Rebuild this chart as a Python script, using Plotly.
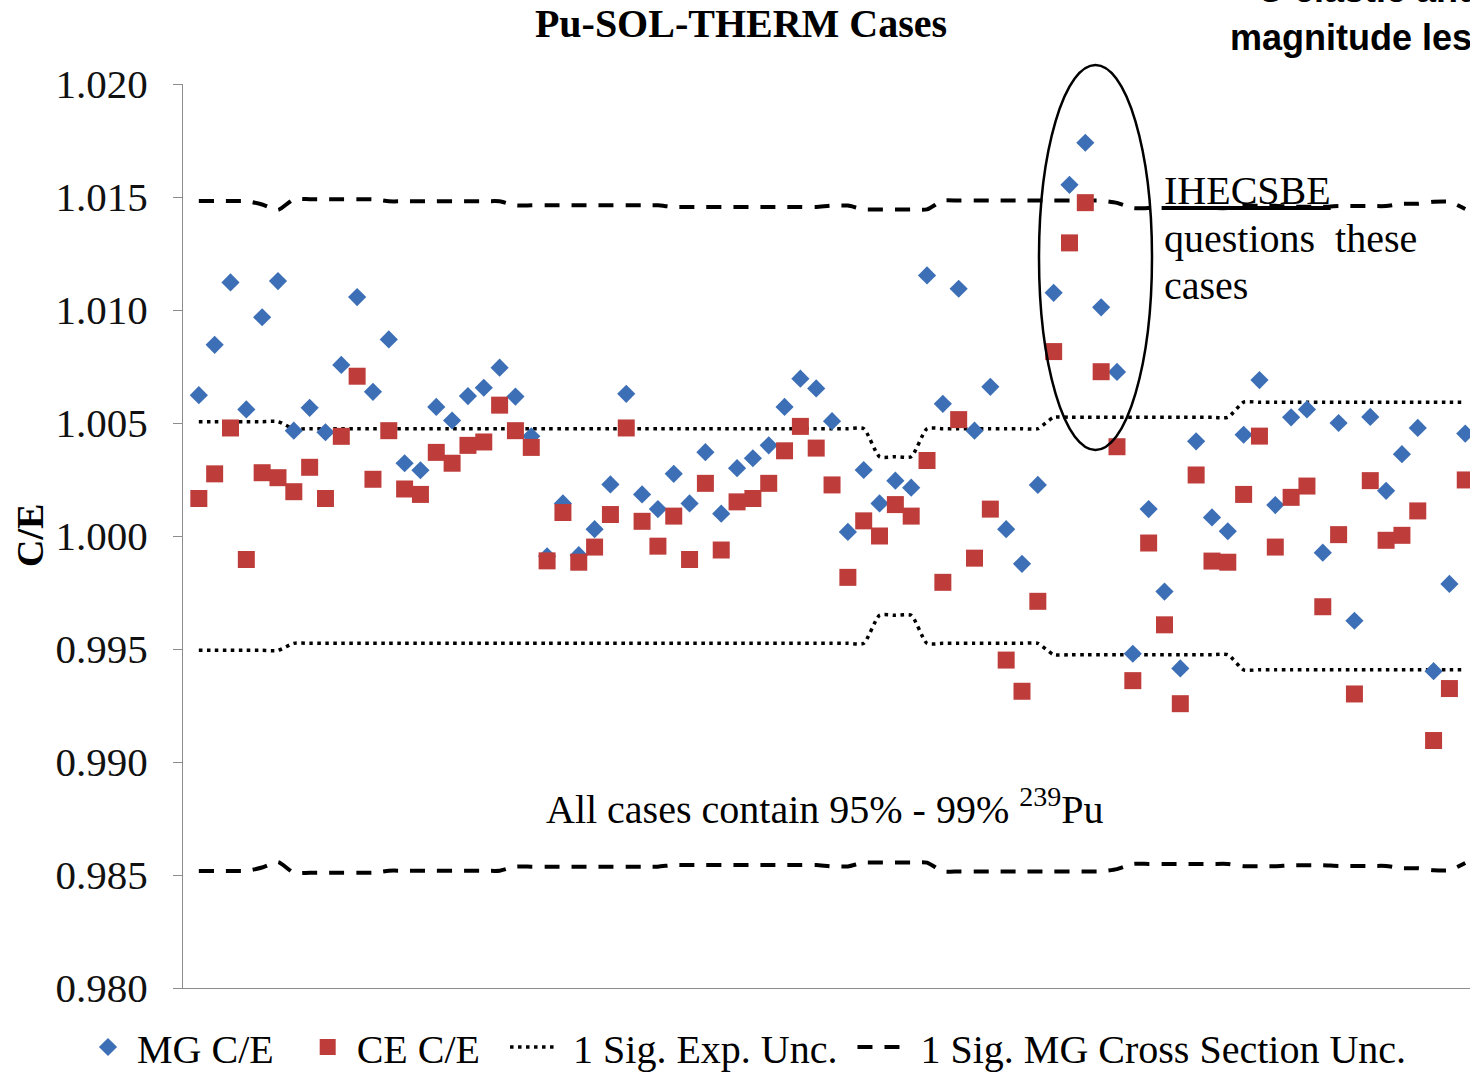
import plotly.graph_objects as go

# ---------------- data ----------------
case = list(range(1, 82))

mg_ce = [1.00623, 1.00846, 1.01122, 1.00560, 1.00968, 1.01128, 1.00466, 1.00567, 1.00459, 1.00757,
         1.01057, 1.00638, 1.00870, 1.00322, 1.00291, 1.00571, 1.00511, 1.00619, 1.00656, 1.00745,
         1.00617, 1.00441, 0.99910, 1.00144, 0.99915, 1.00030, 1.00228, 1.00629, 1.00184, 1.00119,
         1.00275, 1.00144, 1.00371, 1.00099, 1.00300, 1.00344, 1.00401, 1.00571, 1.00696, 1.00653,
         1.00508, 1.00018, 1.00292, 1.00144, 1.00245, 1.00214, 1.01153, 1.00585, 1.01094, 1.00466,
         1.00660, 1.00030, 0.99877, 1.00226, 1.01076, 1.01554, 1.01740, 1.01012, 1.00726, 0.99479,
         1.00119, 0.99754, 0.99414, 1.00419, 1.00082, 1.00021, 1.00448, 1.00690, 1.00137, 1.00525,
         1.00560, 0.99926, 1.00500, 0.99625, 1.00527, 1.00200, 1.00362, 1.00478, 0.99402, 0.99788,
         1.00453]

ce_ce = [1.00166, 1.00275, 1.00478, 0.99896, 1.00280, 1.00258, 1.00196, 1.00304, 1.00166, 1.00441,
         1.00707, 1.00251, 1.00466, 1.00208, 1.00184, 1.00370, 1.00322, 1.00401, 1.00416, 1.00579,
         1.00466, 1.00392, 0.99890, 1.00104, 0.99884, 0.99951, 1.00095, 1.00478, 1.00065, 0.99955,
         1.00088, 0.99896, 1.00233, 0.99938, 1.00151, 1.00166, 1.00233, 1.00377, 1.00485, 1.00389,
         1.00226, 0.99817, 1.00067, 1.00000, 1.00139, 1.00088, 1.00334, 0.99795, 1.00515, 0.99902,
         1.00119, 0.99451, 0.99313, 0.99711, 1.00816, 1.01297, 1.01475, 1.00727, 1.00395, 0.99360,
         0.99969, 0.99607, 0.99258, 1.00270, 0.99889, 0.99884, 1.00184, 1.00442, 0.99951, 1.00171,
         1.00221, 0.99687, 1.00006, 0.99301, 1.00245, 0.99981, 1.00003, 1.00111, 0.99095, 0.99325,
         1.00248]

# 1-sigma experimental uncertainty (band = 1 +/- value)
exp_unc = [0.00506, 0.00506, 0.00506, 0.00506, 0.00506, 0.00506, 0.00475, 0.00475, 0.00475, 0.00475,
           0.00475, 0.00475, 0.00475, 0.00475, 0.00475, 0.00475, 0.00475, 0.00475, 0.00475, 0.00475,
           0.00475, 0.00475, 0.00475, 0.00475, 0.00475, 0.00475, 0.00475, 0.00475, 0.00475, 0.00475,
           0.00475, 0.00475, 0.00475, 0.00475, 0.00475, 0.00475, 0.00475, 0.00475, 0.00475, 0.00475,
           0.00475, 0.00475, 0.00475, 0.00351, 0.00351, 0.00351, 0.00475, 0.00475, 0.00475, 0.00475,
           0.00475, 0.00475, 0.00475, 0.00475, 0.00525, 0.00525, 0.00525, 0.00525, 0.00525, 0.00525,
           0.00525, 0.00525, 0.00525, 0.00525, 0.00525, 0.00525, 0.00592, 0.00592, 0.00592, 0.00592,
           0.00592, 0.00592, 0.00592, 0.00592, 0.00592, 0.00592, 0.00592, 0.00592, 0.00592, 0.00592,
           0.00592]

# 1-sigma MG cross-section uncertainty (band = 1 +/- value)
xs_unc = [0.01482, 0.01482, 0.01482, 0.01482, 0.01467, 0.01443, 0.01490, 0.01490, 0.01490, 0.01490,
          0.01490, 0.01490, 0.01481, 0.01481, 0.01481, 0.01481, 0.01481, 0.01481, 0.01481, 0.01481,
          0.01463, 0.01463, 0.01463, 0.01463, 0.01463, 0.01463, 0.01463, 0.01463, 0.01463, 0.01463,
          0.01456, 0.01456, 0.01456, 0.01456, 0.01456, 0.01456, 0.01456, 0.01456, 0.01456, 0.01456,
          0.01462, 0.01462, 0.01445, 0.01445, 0.01445, 0.01445, 0.01445, 0.01484, 0.01484, 0.01484,
          0.01484, 0.01484, 0.01484, 0.01484, 0.01484, 0.01484, 0.01484, 0.01484, 0.01474, 0.01451,
          0.01451, 0.01451, 0.01451, 0.01451, 0.01451, 0.01451, 0.01461, 0.01461, 0.01461, 0.01457,
          0.01457, 0.01457, 0.01460, 0.01460, 0.01460, 0.01460, 0.01470, 0.01470, 0.01479, 0.01479,
          0.01447]

y_ticks = [0.980, 0.985, 0.990, 0.995, 1.000, 1.005, 1.010, 1.015, 1.020]

# ---------------- styles ----------------
SERIF = "Liberation Serif, Times New Roman, serif"
SANS = "Liberation Sans, Arial, sans-serif"
BLUE = "#3D6FB6"
RED = "#BE3D3B"
NB = "\u00a0"

exp_hi = [1 + u for u in exp_unc]
exp_lo = [1 - u for u in exp_unc]
xs_hi = [1 + u for u in xs_unc]
xs_lo = [1 - u for u in xs_unc]

fig = go.Figure()

dot_line = dict(color="black", width=3.5, dash="3.5px,4.5px", shape="spline", smoothing=0.6)
dash_line = dict(color="black", width=4, dash="15px,12px", shape="spline", smoothing=0.6)

fig.add_trace(go.Scatter(x=case, y=exp_hi, mode="lines", line=dot_line,
                         name=NB + "1 Sig. Exp. Unc." + NB,
                         legendgroup="exp", legendrank=3))
fig.add_trace(go.Scatter(x=case, y=exp_lo, mode="lines", line=dot_line, name="exp_lo",
                         legendgroup="exp", showlegend=False))
fig.add_trace(go.Scatter(x=case, y=xs_hi, mode="lines", line=dash_line,
                         name=NB + "1 Sig. MG Cross Section Unc.", legendgroup="xs", legendrank=4))
fig.add_trace(go.Scatter(x=case, y=xs_lo, mode="lines", line=dash_line, name="xs_lo",
                         legendgroup="xs", showlegend=False))
fig.add_trace(go.Scatter(x=case, y=mg_ce, mode="markers", name="MG C/E" + NB * 2, legendrank=1,
                         marker=dict(symbol="diamond", size=14, color=BLUE), cliponaxis=False))
fig.add_trace(go.Scatter(x=case, y=ce_ce, mode="markers", name="CE C/E" + NB * 2, legendrank=2,
                         marker=dict(symbol="square", size=17, color=RED), cliponaxis=False))

W, H = 1470, 1073
L, T, B = 183, 84, 85
pw, ph = W - L, H - T - B


def px_x(p):
    return (p - L) / pw


def px_y(p):
    return (H - B - p) / ph


fig.update_layout(
    width=W, height=H,
    margin=dict(l=L, r=0, t=T, b=B, pad=0, autoexpand=False),
    paper_bgcolor="white", plot_bgcolor="white",
    showlegend=True,
    legend=dict(orientation="h", xref="paper", yref="paper",
                x=px_x(79), y=px_y(1047), xanchor="left", yanchor="middle",
                font=dict(family=SERIF, size=40, color="black"), bgcolor="rgba(0,0,0,0)",
                traceorder="normal", itemwidth=48),
    title=dict(text="<b>Pu-SOL-THERM Cases</b>", x=741 / W, xanchor="center",
               y=1 - 23 / H, yanchor="middle", yref="container",
               font=dict(family=SERIF, size=40, color="black")),
    xaxis=dict(range=[0, 81.3], showticklabels=False, showgrid=False, zeroline=False,
               showline=True, linecolor="#8C8C8C", linewidth=1, ticks=""),
    yaxis=dict(range=[0.980, 1.020], tickvals=y_ticks, tickformat=".3f", showgrid=False,
               zeroline=False, showline=True, linecolor="#8C8C8C", linewidth=1,
               ticks="outside", ticklen=9, tickcolor="#8C8C8C", ticklabelstandoff=17,
               tickfont=dict(family=SERIF, size=41, color="#111111")),
)

# y-axis title
fig.add_annotation(text="<b>C/E</b>", xref="paper", yref="paper", x=px_x(30), y=px_y(536),
                   textangle=-90, showarrow=False, xanchor="center", yanchor="middle",
                   font=dict(family=SERIF, size=38, color="black"))

# isotope note
fig.add_annotation(text="All cases contain 95% - 99% <sup>239</sup>Pu", xref="paper", yref="paper",
                   x=px_x(824), y=px_y(806), showarrow=False, xanchor="center", yanchor="middle",
                   font=dict(family=SERIF, size=40, color="black"))

# IHECSBE note (three lines)
note_lines = ["<u>IHECSBE</u>", "questions" + NB * 2 + "these", "cases"]
note_y = [190, 238, 285]
for txt, yy in zip(note_lines, note_y):
    fig.add_annotation(text=txt, xref="paper", yref="paper", x=px_x(1162), y=px_y(yy),
                       showarrow=False, xanchor="left", yanchor="middle", align="left",
                       font=dict(family=SERIF, size=40, color="black"))

# slide heading text cut at top-right
fig.add_annotation(text="<b>U elastic and</b>", xref="paper", yref="paper",
                   x=px_x(1256), y=px_y(-10), showarrow=False, xanchor="left", yanchor="middle",
                   font=dict(family=SANS, size=36, color="black"))
fig.add_annotation(text="<b>magnitude less</b>", xref="paper", yref="paper",
                   x=px_x(1228), y=px_y(38), showarrow=False, xanchor="left", yanchor="middle",
                   font=dict(family=SANS, size=36, color="black"))

# ellipse around questioned cases
fig.add_shape(type="circle", xref="paper", yref="paper",
              x0=px_x(1039), x1=px_x(1152), y0=px_y(450), y1=px_y(65),
              line=dict(color="black", width=2.5), fillcolor="rgba(0,0,0,0)")

fig.write_html("out.html")
